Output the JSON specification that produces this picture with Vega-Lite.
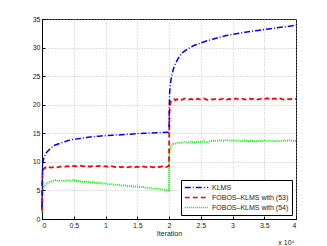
{
  "$schema": "https://vega.github.io/schema/vega-lite/v6.json",
  "width": 254,
  "height": 200,
  "autosize": "none",
  "padding": {"left": 42, "top": 19, "right": 31, "bottom": 27},
  "background": "white",
  "title": {"text": "x 10⁴", "orient": "bottom", "anchor": "end", "fontSize": 7, "font": "Liberation Sans", "fontWeight": "normal", "offset": 3, "dx": -5, "color": "#222"},
  "config": {
    "view": {"stroke": "black", "strokeWidth": 1},
    "axis": {"labelFont": "Liberation Sans", "labelFontSize": 7, "labelColor": "#222", "titleFont": "Liberation Sans", "titleFontSize": 7, "titleFontWeight": "normal", "titleColor": "#222", "domainColor": "black", "tickColor": "black", "tickSize": -3, "grid": true, "gridColor": "#b0b0b0", "gridDash": [1, 2], "gridWidth": 0.8},
    "axisX": {"labelPadding": 5, "format": "~g"},
    "axisY": {"labelPadding": 5},
    "legend": {"labelFont": "Liberation Sans", "labelFontSize": 7, "labelColor": "#222"}
  },
  "datasets": {
    "klms": [
      {"x": 0, "y": 2.0}, {"x": 0.005, "y": 7}, {"x": 0.01, "y": 9.5}, {"x": 0.02, "y": 10.3}, {"x": 0.04, "y": 11.0}, {"x": 0.06, "y": 11.5}, {"x": 0.1, "y": 12.0}, {"x": 0.15, "y": 12.5}, {"x": 0.2, "y": 12.9}, {"x": 0.3, "y": 13.3}, {"x": 0.4, "y": 13.7}, {"x": 0.5, "y": 13.95}, {"x": 0.6, "y": 14.1}, {"x": 0.7, "y": 14.25}, {"x": 0.8, "y": 14.4}, {"x": 0.9, "y": 14.5}, {"x": 1.0, "y": 14.6}, {"x": 1.1, "y": 14.65}, {"x": 1.2, "y": 14.7}, {"x": 1.3, "y": 14.8}, {"x": 1.4, "y": 14.85}, {"x": 1.5, "y": 14.95}, {"x": 1.6, "y": 15.0}, {"x": 1.7, "y": 15.05}, {"x": 1.8, "y": 15.1}, {"x": 1.9, "y": 15.15}, {"x": 1.99, "y": 15.2}, {"x": 2.0, "y": 15.3}, {"x": 2.005, "y": 20}, {"x": 2.01, "y": 22}, {"x": 2.02, "y": 23.5}, {"x": 2.04, "y": 25}, {"x": 2.07, "y": 26.3}, {"x": 2.1, "y": 27.2}, {"x": 2.15, "y": 28.2}, {"x": 2.2, "y": 29}, {"x": 2.3, "y": 29.8}, {"x": 2.4, "y": 30.4}, {"x": 2.5, "y": 30.8}, {"x": 2.6, "y": 31.2}, {"x": 2.7, "y": 31.5}, {"x": 2.8, "y": 31.8}, {"x": 2.9, "y": 32.1}, {"x": 3.0, "y": 32.3}, {"x": 3.2, "y": 32.7}, {"x": 3.4, "y": 33.0}, {"x": 3.6, "y": 33.3}, {"x": 3.8, "y": 33.6}, {"x": 4.0, "y": 33.9}
    ],
    "f53": [
      {"x": 0, "y": 1.5}, {"x": 0.004, "y": 5.5}, {"x": 0.008, "y": 8.0}, {"x": 0.015, "y": 8.6}, {"x": 0.03, "y": 8.8}, {"x": 0.05, "y": 9.0}, {"x": 0.08, "y": 8.9}, {"x": 0.1, "y": 9.1}, {"x": 0.15, "y": 9.0}, {"x": 0.2, "y": 9.15}, {"x": 0.25, "y": 9.05}, {"x": 0.3, "y": 9.2}, {"x": 0.35, "y": 9.1}, {"x": 0.4, "y": 9.25}, {"x": 0.45, "y": 9.15}, {"x": 0.5, "y": 9.3}, {"x": 0.55, "y": 9.2}, {"x": 0.6, "y": 9.35}, {"x": 0.65, "y": 9.2}, {"x": 0.7, "y": 9.3}, {"x": 0.75, "y": 9.15}, {"x": 0.8, "y": 9.3}, {"x": 0.85, "y": 9.2}, {"x": 0.9, "y": 9.3}, {"x": 0.95, "y": 9.15}, {"x": 1.0, "y": 9.25}, {"x": 1.05, "y": 9.1}, {"x": 1.1, "y": 9.25}, {"x": 1.15, "y": 9.1}, {"x": 1.2, "y": 9.2}, {"x": 1.25, "y": 9.05}, {"x": 1.3, "y": 9.2}, {"x": 1.35, "y": 9.05}, {"x": 1.4, "y": 9.15}, {"x": 1.45, "y": 9.0}, {"x": 1.5, "y": 9.15}, {"x": 1.55, "y": 9.05}, {"x": 1.6, "y": 9.2}, {"x": 1.65, "y": 9.05}, {"x": 1.7, "y": 9.15}, {"x": 1.75, "y": 9.05}, {"x": 1.8, "y": 9.2}, {"x": 1.85, "y": 9.1}, {"x": 1.9, "y": 9.25}, {"x": 1.95, "y": 9.1}, {"x": 1.995, "y": 9.25}, {"x": 2.0, "y": 9.3}, {"x": 2.003, "y": 14}, {"x": 2.008, "y": 18.5}, {"x": 2.015, "y": 20.0}, {"x": 2.03, "y": 20.6}, {"x": 2.05, "y": 20.8}, {"x": 2.08, "y": 21.0}, {"x": 2.1, "y": 20.8}, {"x": 2.15, "y": 21.05}, {"x": 2.2, "y": 20.85}, {"x": 2.25, "y": 21.1}, {"x": 2.3, "y": 20.9}, {"x": 2.35, "y": 21.0}, {"x": 2.4, "y": 20.8}, {"x": 2.45, "y": 21.05}, {"x": 2.5, "y": 20.9}, {"x": 2.55, "y": 21.1}, {"x": 2.6, "y": 20.85}, {"x": 2.65, "y": 21.0}, {"x": 2.7, "y": 20.9}, {"x": 2.75, "y": 21.1}, {"x": 2.8, "y": 20.9}, {"x": 2.85, "y": 21.05}, {"x": 2.9, "y": 20.85}, {"x": 2.95, "y": 21.0}, {"x": 3.0, "y": 20.9}, {"x": 3.05, "y": 21.1}, {"x": 3.1, "y": 20.9}, {"x": 3.15, "y": 21.05}, {"x": 3.2, "y": 20.9}, {"x": 3.25, "y": 21.15}, {"x": 3.3, "y": 20.95}, {"x": 3.35, "y": 21.1}, {"x": 3.4, "y": 20.9}, {"x": 3.45, "y": 21.05}, {"x": 3.5, "y": 20.95}, {"x": 3.55, "y": 21.15}, {"x": 3.6, "y": 20.9}, {"x": 3.65, "y": 21.1}, {"x": 3.7, "y": 20.95}, {"x": 3.75, "y": 21.1}, {"x": 3.8, "y": 20.9}, {"x": 3.85, "y": 21.05}, {"x": 3.9, "y": 20.95}, {"x": 3.95, "y": 21.1}, {"x": 4.0, "y": 21.0}
    ],
    "f54": [
      {"x": 0, "y": 1.0}, {"x": 0.005, "y": 4.0}, {"x": 0.01, "y": 5.0}, {"x": 0.03, "y": 5.6}, {"x": 0.06, "y": 6.1}, {"x": 0.1, "y": 6.4}, {"x": 0.15, "y": 6.55}, {"x": 0.2, "y": 6.8}, {"x": 0.25, "y": 6.65}, {"x": 0.3, "y": 6.75}, {"x": 0.35, "y": 6.6}, {"x": 0.4, "y": 6.8}, {"x": 0.45, "y": 6.7}, {"x": 0.5, "y": 6.85}, {"x": 0.55, "y": 6.65}, {"x": 0.6, "y": 6.6}, {"x": 0.65, "y": 6.5}, {"x": 0.7, "y": 6.55}, {"x": 0.75, "y": 6.4}, {"x": 0.8, "y": 6.45}, {"x": 0.85, "y": 6.3}, {"x": 0.9, "y": 6.35}, {"x": 0.95, "y": 6.2}, {"x": 1.0, "y": 6.25}, {"x": 1.05, "y": 6.05}, {"x": 1.1, "y": 6.1}, {"x": 1.15, "y": 5.95}, {"x": 1.2, "y": 6.0}, {"x": 1.25, "y": 5.85}, {"x": 1.3, "y": 5.9}, {"x": 1.35, "y": 5.75}, {"x": 1.4, "y": 5.8}, {"x": 1.45, "y": 5.65}, {"x": 1.5, "y": 5.7}, {"x": 1.55, "y": 5.55}, {"x": 1.6, "y": 5.6}, {"x": 1.65, "y": 5.45}, {"x": 1.7, "y": 5.5}, {"x": 1.75, "y": 5.3}, {"x": 1.8, "y": 5.35}, {"x": 1.85, "y": 5.2}, {"x": 1.9, "y": 5.2}, {"x": 1.95, "y": 5.05}, {"x": 2.0, "y": 5.0}, {"x": 2.002, "y": 11.0}, {"x": 2.01, "y": 12.0}, {"x": 2.03, "y": 12.7}, {"x": 2.06, "y": 13.1}, {"x": 2.1, "y": 13.2}, {"x": 2.15, "y": 13.35}, {"x": 2.2, "y": 13.3}, {"x": 2.25, "y": 13.5}, {"x": 2.3, "y": 13.35}, {"x": 2.35, "y": 13.55}, {"x": 2.4, "y": 13.4}, {"x": 2.45, "y": 13.55}, {"x": 2.5, "y": 13.45}, {"x": 2.55, "y": 13.6}, {"x": 2.6, "y": 13.35}, {"x": 2.65, "y": 13.6}, {"x": 2.7, "y": 13.7}, {"x": 2.75, "y": 13.65}, {"x": 2.8, "y": 13.8}, {"x": 2.85, "y": 13.7}, {"x": 2.9, "y": 13.85}, {"x": 2.95, "y": 13.7}, {"x": 3.0, "y": 13.8}, {"x": 3.05, "y": 13.65}, {"x": 3.1, "y": 13.75}, {"x": 3.15, "y": 13.6}, {"x": 3.2, "y": 13.75}, {"x": 3.25, "y": 13.6}, {"x": 3.3, "y": 13.7}, {"x": 3.35, "y": 13.55}, {"x": 3.4, "y": 13.7}, {"x": 3.45, "y": 13.6}, {"x": 3.5, "y": 13.75}, {"x": 3.55, "y": 13.65}, {"x": 3.6, "y": 13.75}, {"x": 3.65, "y": 13.6}, {"x": 3.7, "y": 13.7}, {"x": 3.75, "y": 13.6}, {"x": 3.8, "y": 13.75}, {"x": 3.85, "y": 13.65}, {"x": 3.9, "y": 13.8}, {"x": 3.95, "y": 13.65}, {"x": 4.0, "y": 13.7}
    ]
  },
  "encoding": {
    "x": {"field": "x", "type": "quantitative", "title": "Iteration", "axis": {"values": [0, 0.5, 1, 1.5, 2, 2.5, 3, 3.5, 4], "titlePadding": 1},
      "scale": {"domain": [0, 4], "nice": false}},
    "y": {"field": "y", "type": "quantitative", "title": null,
      "scale": {"domain": [0, 35], "nice": false},
      "axis": {"values": [0, 5, 10, 15, 20, 25, 30, 35]}}
  },
  "layer": [
    {
      "data": {"name": "f54"},
      "mark": {"type": "line", "strokeWidth": 1.8},
      "encoding": {
        "color": {"datum": "FOBOS–KLMS with (54)", "type": "nominal"},
        "strokeDash": {"datum": "FOBOS–KLMS with (54)", "type": "nominal"}
      }
    },
    {
      "data": {"name": "f53"},
      "mark": {"type": "line", "strokeWidth": 1.8},
      "encoding": {
        "color": {"datum": "FOBOS–KLMS with (53)", "type": "nominal"},
        "strokeDash": {"datum": "FOBOS–KLMS with (53)", "type": "nominal"}
      }
    },
    {
      "data": {"name": "klms"},
      "mark": {"type": "line", "strokeWidth": 1.5},
      "encoding": {
        "color": {"datum": "KLMS", "type": "nominal",
          "scale": {"domain": ["KLMS", "FOBOS–KLMS with (53)", "FOBOS–KLMS with (54)"], "range": ["#0000ff", "#ff0000", "#00ee00"]},
          "legend": {"title": null, "orient": "bottom-right", "offset": 4, "strokeColor": "black", "fillColor": "white", "padding": 3, "symbolType": "stroke", "symbolSize": 550, "symbolStrokeWidth": 1.5, "clipHeight": 9, "rowPadding": 1, "labelOffset": 3}},
        "strokeDash": {"datum": "KLMS", "type": "nominal",
          "scale": {"domain": ["KLMS", "FOBOS–KLMS with (53)", "FOBOS–KLMS with (54)"], "range": [[6, 2, 1, 2], [5, 3], [1, 1]]},
          "legend": {"title": null, "orient": "bottom-right", "offset": 4, "strokeColor": "black", "fillColor": "white", "padding": 3, "symbolType": "stroke", "symbolSize": 550, "symbolStrokeWidth": 1.5, "clipHeight": 9, "rowPadding": 1, "labelOffset": 3}}
      }
    }
  ]
}
